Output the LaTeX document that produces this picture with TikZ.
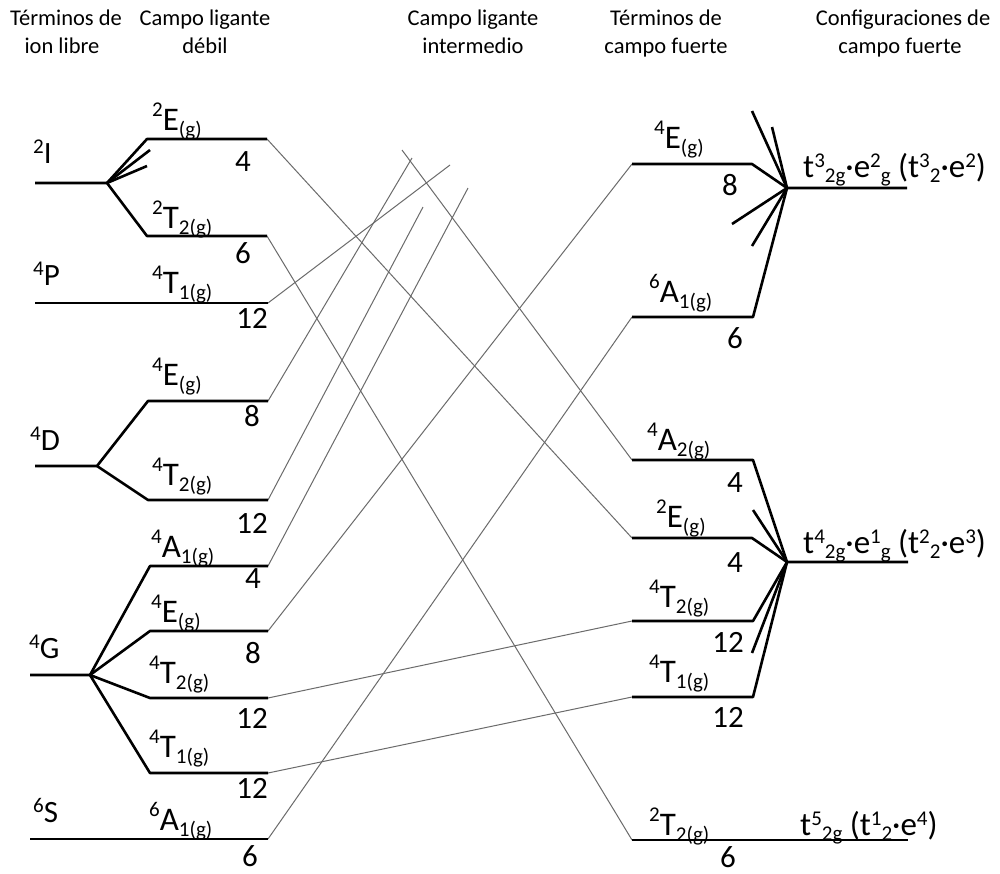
\documentclass[tikz,border=0pt]{standalone}
\usepackage{fontspec}
\setmainfont{Carlito}
\newcommand\hdrfont{\fontsize{22.5}{27}\selectfont}
\newcommand\bigfont{\fontsize{33}{33}\selectfont}
\newcommand\numfont{\fontsize{31}{31}\selectfont}
\newcommand\ionfont{\fontsize{31}{31}\selectfont}
\newcommand\smfont{\fontsize{21}{21}\selectfont}
% term symbol: left superscript, letter, right subscript
\newcommand\lvterm[3]{\raisebox{14pt}{\smfont #1}#2\raisebox{-6pt}{\smfont #3}}
\newcommand\ionterm[2]{\raisebox{10pt}{\smfont #1}#2}
\newcommand\up[1]{\raisebox{10pt}{\smfont #1}}
\newcommand\dn[1]{\raisebox{-5pt}{\smfont #1}}
\begin{document}
\begin{tikzpicture}[x=1pt,y=-1pt,
  lvl/.style={line width=2.6pt,line join=round},
  conn/.style={draw=black!58,line width=1pt},
  hdr/.style={font=\hdrfont,anchor=base,inner sep=0pt},
  term/.style={font=\bigfont,anchor=base west,inner sep=0pt},
  ion/.style={font=\ionfont,anchor=base west,inner sep=0pt},
  deg/.style={font=\numfont,anchor=base,inner sep=0pt}]
\useasboundingbox (0,0) rectangle (1000,873);
\fill[white] (0,0) rectangle (1000,873);

% column headers
\node[hdr] (h1a) at (66,25) {Términos de};
\node[hdr] (h1b) at (62,53) {ion libre};
\node[hdr] (h2a) at (205,25) {Campo ligante};
\node[hdr] (h2b) at (205,53) {débil};
\node[hdr] (h3a) at (473,25) {Campo ligante};
\node[hdr] (h3b) at (473,53) {intermedio};
\node[hdr] (h4a) at (666,25) {Términos de};
\node[hdr] (h4b) at (666,53) {campo fuerte};
\node[hdr] (h5a) at (903,25) {Configuraciones de};
\node[hdr] (h5b) at (900,53) {campo fuerte};

% free-ion terms
\coordinate (I0) at (35,183);  \coordinate (Ib) at (107,183);
\coordinate (P0) at (35,303);
\coordinate (D0) at (35,466);  \coordinate (Db) at (97,466);
\coordinate (G0) at (30,675);  \coordinate (Gb) at (90,675);
\coordinate (S0) at (30,839);

% weak-field levels
\coordinate (wEs) at (147,139);  \coordinate (wEe) at (267,139);
\coordinate (wTs) at (147,236);  \coordinate (wTe) at (267,236);
\coordinate (wPe) at (268,303);
\coordinate (wDEs) at (148,401); \coordinate (wDEe) at (268,401);
\coordinate (wDTs) at (148,500); \coordinate (wDTe) at (268,500);
\coordinate (wAs) at (150,566);  \coordinate (wAe) at (268,566);
\coordinate (wGEs) at (150,631); \coordinate (wGEe) at (268,631);
\coordinate (wGTs) at (150,698); \coordinate (wGTe) at (268,698);
\coordinate (wGUs) at (150,773); \coordinate (wGUe) at (268,773);
\coordinate (wSe) at (268,839);
\coordinate (k1) at (150,150);   \coordinate (k2) at (147,166);

% strong-field levels
\coordinate (sEs) at (632,164);  \coordinate (sEe) at (752,164);
\coordinate (sAs) at (632,317);  \coordinate (sAe) at (753,317);
\coordinate (c1) at (787,188);   \coordinate (c1e) at (907,188);
\coordinate (s42s) at (632,460); \coordinate (s42e) at (753,460);
\coordinate (s2Es) at (632,538); \coordinate (s2Ee) at (752,538);
\coordinate (s4Ts) at (632,621); \coordinate (s4Te) at (753,621);
\coordinate (s4Us) at (632,697); \coordinate (s4Ue) at (753,697);
\coordinate (c2) at (787,562);   \coordinate (c2e) at (908,562);
\coordinate (sTs) at (632,840);  \coordinate (sTe) at (908,840);
\coordinate (u1) at (752,111);   \coordinate (u2) at (772,127);
\coordinate (u3) at (732,224);   \coordinate (u4) at (752,246);
\coordinate (v1) at (753,510);   \coordinate (v2) at (752,653);

% loose ends in the intermediate region
\coordinate (f1) at (402,150);
\coordinate (f2) at (450,165);
\coordinate (f3) at (412,158);
\coordinate (f4) at (423,207);
\coordinate (f5) at (468,188);

% correlation lines
\draw[conn] (wEe) -- (s2Es);
\draw[conn] (wTe) -- (sTs);
\draw[conn] (wPe) -- (f2);
\draw[conn] (wDEe) -- (f3);
\draw[conn] (wDTe) -- (f4);
\draw[conn] (wAe) -- (f5);
\draw[conn] (wGEe) -- (sEs);
\draw[conn] (wGTe) -- (s4Ts);
\draw[conn] (wGUe) -- (s4Us);
\draw[conn] (wSe) -- (sAs);
\draw[conn] (f1) -- (s42s);

% left splittings
\draw[lvl] (I0) -- (Ib) -- (wEs) -- (wEe);
\draw[lvl] (Ib) -- (wTs) -- (wTe);
\draw[lvl] (Ib) -- (k1);
\draw[lvl] (Ib) -- (k2);
\draw[lvl] (P0) -- (wPe);
\draw[lvl] (D0) -- (Db) -- (wDEs) -- (wDEe);
\draw[lvl] (Db) -- (wDTs) -- (wDTe);
\draw[lvl] (G0) -- (Gb) -- (wAs) -- (wAe);
\draw[lvl] (Gb) -- (wGEs) -- (wGEe);
\draw[lvl] (Gb) -- (wGTs) -- (wGTe);
\draw[lvl] (Gb) -- (wGUs) -- (wGUe);
\draw[lvl] (S0) -- (wSe);

% right correlations
\draw[lvl] (sEs) -- (sEe) -- (c1) -- (c1e);
\draw[lvl] (sAs) -- (sAe) -- (c1);
\draw[lvl] (c1) -- (u1);
\draw[lvl] (c1) -- (u2);
\draw[lvl] (c1) -- (u3);
\draw[lvl] (c1) -- (u4);
\draw[lvl] (s42s) -- (s42e) -- (c2) -- (c2e);
\draw[lvl] (s2Es) -- (s2Ee) -- (c2);
\draw[lvl] (s4Ts) -- (s4Te) -- (c2);
\draw[lvl] (s4Us) -- (s4Ue) -- (c2);
\draw[lvl] (c2) -- (v1);
\draw[lvl] (c2) -- (v2);
\draw[lvl] (sTs) -- (sTe);

% free-ion labels
\node[ion] (tI) at (33,163) {\ionterm{2}{I}};
\node[ion] (tP) at (33,285) {\ionterm{4}{P}};
\node[ion] (tD) at (30,450) {\ionterm{4}{D}};
\node[ion] (tG) at (29,658) {\ionterm{4}{G}};
\node[ion] (tS) at (33,822) {\ionterm{6}{S}};

% weak-field labels
\node[term] (lE) at (152,130) {\lvterm{2}{E}{(g)}};
\node[term] (lT) at (152,228) {\lvterm{2}{T}{2(g)}};
\node[term] (lP) at (152,293) {\lvterm{4}{T}{1(g)}};
\node[term] (lDE) at (152,385) {\lvterm{4}{E}{(g)}};
\node[term] (lDT) at (152,485) {\lvterm{4}{T}{2(g)}};
\node[term] (lA) at (151,557) {\lvterm{4}{A}{1(g)}};
\node[term] (lGE) at (151,622) {\lvterm{4}{E}{(g)}};
\node[term] (lGT) at (149,683) {\lvterm{4}{T}{2(g)}};
\node[term] (lGU) at (149,757) {\lvterm{4}{T}{1(g)}};
\node[term] (lS) at (149,830) {\lvterm{6}{A}{1(g)}};

% weak-field degeneracies
\node[deg] (dE) at (243,171) {4};
\node[deg] (dT) at (243,263) {6};
\node[deg] (dP) at (252,328) {12};
\node[deg] (dDE) at (252,426) {8};
\node[deg] (dDT) at (252,533) {12};
\node[deg] (dA) at (253,588) {4};
\node[deg] (dGE) at (253,663) {8};
\node[deg] (dGT) at (252,728) {12};
\node[deg] (dGU) at (252,798) {12};
\node[deg] (dS) at (250,866) {6};

% strong-field labels
\node[term] (rE) at (654,148) {\lvterm{4}{E}{(g)}};
\node[term] (rA) at (649,302) {\lvterm{6}{A}{1(g)}};
\node[term] (r42) at (647,450) {\lvterm{4}{A}{2(g)}};
\node[term] (r2E) at (656,527) {\lvterm{2}{E}{(g)}};
\node[term] (r4T) at (649,607) {\lvterm{4}{T}{2(g)}};
\node[term] (r4U) at (649,682) {\lvterm{4}{T}{1(g)}};
\node[term] (rT) at (649,835) {\lvterm{2}{T}{2(g)}};

% strong-field degeneracies
\node[deg] (eE) at (730,195) {8};
\node[deg] (eA) at (735,348) {6};
\node[deg] (e42) at (735,492) {4};
\node[deg] (e2E) at (735,572) {4};
\node[deg] (e4T) at (728,652) {12};
\node[deg] (e4U) at (728,727) {12};
\node[deg] (eT) at (728,867) {6};

% strong-field configurations
\node[term] (cf1) at (803,177) {t\up{3}\dn{2g}·e\up{2}\dn{g} (t\up{3}\dn{2}·e\up{2})};
\node[term] (cf2) at (803,553) {t\up{4}\dn{2g}·e\up{1}\dn{g} (t\up{2}\dn{2}·e\up{3})};
\node[term] (cf3) at (800,835) {t\up{5}\dn{2g} (t\up{1}\dn{2}·e\up{4})};
\end{tikzpicture}
\end{document}
